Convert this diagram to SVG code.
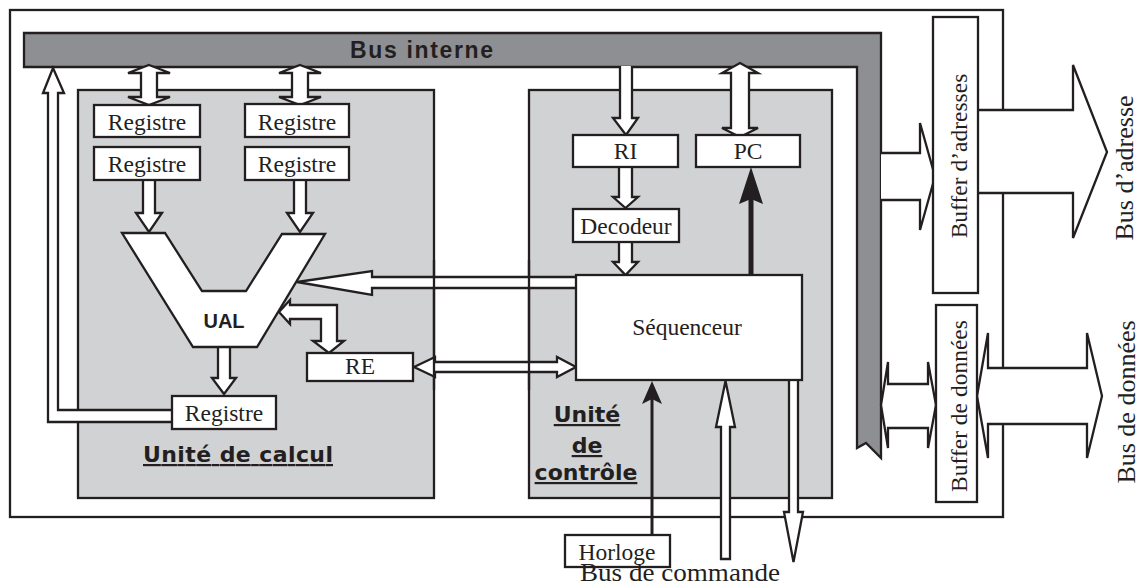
<svg xmlns="http://www.w3.org/2000/svg" width="1144" height="588" viewBox="0 0 1144 588">
<style>
.ln{stroke:#231f20;stroke-width:2.3;stroke-linejoin:miter}
.box{fill:#fff;stroke:#231f20;stroke-width:2.3}
.arr{fill:#fff;stroke:#231f20;stroke-width:2.3;stroke-linejoin:miter}
.blk{fill:#231f20;stroke:none}
.t{font-family:"Liberation Serif","Times New Roman",serif;font-size:23.5px;fill:#231f20;text-anchor:middle}
.tb{font-family:"Liberation Serif","Times New Roman",serif;font-size:26px;fill:#231f20;text-anchor:middle}
.cm{font-family:"DejaVu Sans",sans-serif;font-weight:bold;font-size:22px;fill:#231f20;text-anchor:middle;text-decoration:underline}
.sb{font-family:"Liberation Sans",Arial,sans-serif;font-weight:bold;fill:#231f20}
</style>
<rect width="1144" height="588" fill="#fff"/>
<rect id="frame" x="10" y="10" width="993" height="507" fill="#fff" class="ln"/>
<g id="bus-interne">
<polygon points="24,33 881,33 881,458 866,443 857,448 857,67 24,67" fill="#8e8f92" class="ln"/>
<text class="sb" x="350" y="58" font-size="23" textLength="143" lengthAdjust="spacing">Bus interne</text>
</g>
<g id="panel-calcul">
<rect x="78" y="90" width="356" height="408" fill="#d1d2d4" class="ln"/>
<text class="cm" x="238" y="462" textLength="190" lengthAdjust="spacing">Unité de calcul</text>
</g>
<g id="panel-controle">
<rect x="529" y="90" width="303" height="408" fill="#d1d2d4" class="ln"/>
<text class="cm" x="587" y="422">Unité</text>
<text class="cm" x="587" y="453">de</text>
<text class="cm" x="586" y="480">contrôle</text>
</g>
<g id="connectors">
<path class="arr" d="M149,65 L170,73 L157,73 L157,97 L170,97 L149,105 L128,97 L141,97 L141,73 L128,73 Z"/>
<path class="arr" d="M300,65 L321,73 L308,73 L308,97 L321,97 L300,105 L279,97 L292,97 L292,73 L279,73 Z"/>
<path class="arr" d="M143,180 L143,213 L136,213 L149,232 L162,213 L155,213 L155,180"/>
<path class="arr" d="M294,180 L294,213 L287,213 L300,232 L313,213 L306,213 L306,180"/>
<path class="arr" d="M218,347 L218,378 L212,378 L224,394 L236,378 L230,378 L230,347"/>
<path class="arr" d="M172,410 L58,410 L58,93 L64,93 L53,68 L43,93 L48,93 L48,422 L172,422"/>
<path class="arr" d="M279,312 L290,300 L290,305 L337,305 L337,341 L344,341 L329,353 L313,341 L321,341 L321,319 L290,319 L290,324 Z"/>
<path class="arr" d="M576,277 L372,277 L372,271 L297,282 L372,295 L372,288 L576,288"/>
<path class="arr" d="M414,367 L435,357 L435,362 L557,362 L557,357 L576,367 L557,377 L557,372 L435,372 L435,377 Z"/>
<path class="arr" d="M620,66 V118 H613 L626,135 L638,118 H632 V66"/>
<path class="arr" d="M619,167 V197 H613 L625.5,208 L638,197 H632 V167"/>
<path class="arr" d="M619,242 V262 H613 L625.5,275 L638,262 H632 V242"/>
<path class="arr" d="M740,63 L758,73 L749,73 L749,128 L758,128 L740,137 L722,128 L731,128 L731,73 L722,73 Z"/>
<line x1="751" y1="275" x2="751" y2="198" stroke="#231f20" stroke-width="5"/>
<polygon class="blk" points="751,167 763,204 751,199 739,204"/>
<line x1="652" y1="535" x2="652" y2="398" stroke="#231f20" stroke-width="3"/>
<polygon class="blk" points="652,381 662,404 652,399 642,404"/>
<path class="arr" d="M721,559 V427 H716 L725.5,381 L735,427 H730 V559 Z"/>
<path class="arr" d="M789,380 V512 H784 L793.5,562 L803,512 H798 V380"/>
<path class="arr" d="M881,153 H920 V123 L935,176.5 L920,230 V200 H881"/>
<path class="arr" d="M881,405 L888,362 V384 H928 V362 L936,405 L928,448 V428 H888 V448 Z"/>
<path class="arr" d="M978,110 H1073 V65 L1107,152 L1073,238 V193 H978"/>
<path class="arr" d="M977,396 L988,333 V368 H1087 V333 L1102,396 L1087,458 V424 H988 V458 Z"/>
<line class="ln" x1="434" y1="260" x2="434" y2="390"/>
<line class="ln" x1="529" y1="260" x2="529" y2="390"/>
</g>
<g id="registre-1"><rect class="box" x="94" y="105" width="106" height="32"/><text class="t" x="147" y="130">Registre</text></g>
<g id="registre-2"><rect class="box" x="94" y="147" width="106" height="33"/><text class="t" x="147" y="172">Registre</text></g>
<g id="registre-3"><rect class="box" x="245" y="104" width="104" height="33"/><text class="t" x="297" y="130">Registre</text></g>
<g id="registre-4"><rect class="box" x="245" y="147" width="104" height="33"/><text class="t" x="297" y="172">Registre</text></g>
<g id="ual">
<polygon points="122,233 165,233 202,291 246,291 282,234 325,234 257,347 193,347" fill="#fff" class="ln"/>
<text class="sb" x="224" y="328" font-size="20" text-anchor="middle">UAL</text>
</g>
<g id="registre-5"><rect class="box" x="172" y="396" width="104" height="33"/><text class="t" x="224" y="421">Registre</text></g>
<g id="re"><rect class="box" x="307" y="353" width="106" height="28"/><text class="t" x="360" y="374">RE</text></g>
<g id="ri"><rect class="box" x="573" y="135" width="105" height="32"/><text class="t" x="625.5" y="159">RI</text></g>
<g id="pc"><rect class="box" x="696" y="135" width="104" height="32"/><text class="t" x="748" y="159">PC</text></g>
<g id="decodeur"><rect class="box" x="573" y="209" width="106" height="33"/><text class="t" x="626" y="234">Decodeur</text></g>
<g id="sequenceur"><rect class="box" x="576" y="275" width="226" height="105"/><text class="t" x="687" y="335">Séquenceur</text></g>
<g id="horloge"><rect class="box" x="565" y="535" width="105" height="32"/><text class="t" x="617" y="560">Horloge</text></g>
<g id="buffer-adresses"><rect class="box" x="933" y="17" width="45" height="276"/><text class="t" transform="translate(967,156) rotate(-90)">Buffer d’adresses</text></g>
<g id="buffer-donnees"><rect class="box" x="936" y="305" width="41" height="197"/><text class="t" transform="translate(967,406) rotate(-90)" font-size="24">Buffer de données</text></g>
<g id="labels">
<text class="tb" transform="translate(1133,168) rotate(-90)">Bus d’adresse</text>
<text class="tb" transform="translate(1135,402) rotate(-90)">Bus de données</text>
<text class="tb" x="680" y="581" text-anchor="start" font-size="24" textLength="200" lengthAdjust="spacingAndGlyphs">Bus de commande</text>
</g>
</svg>
